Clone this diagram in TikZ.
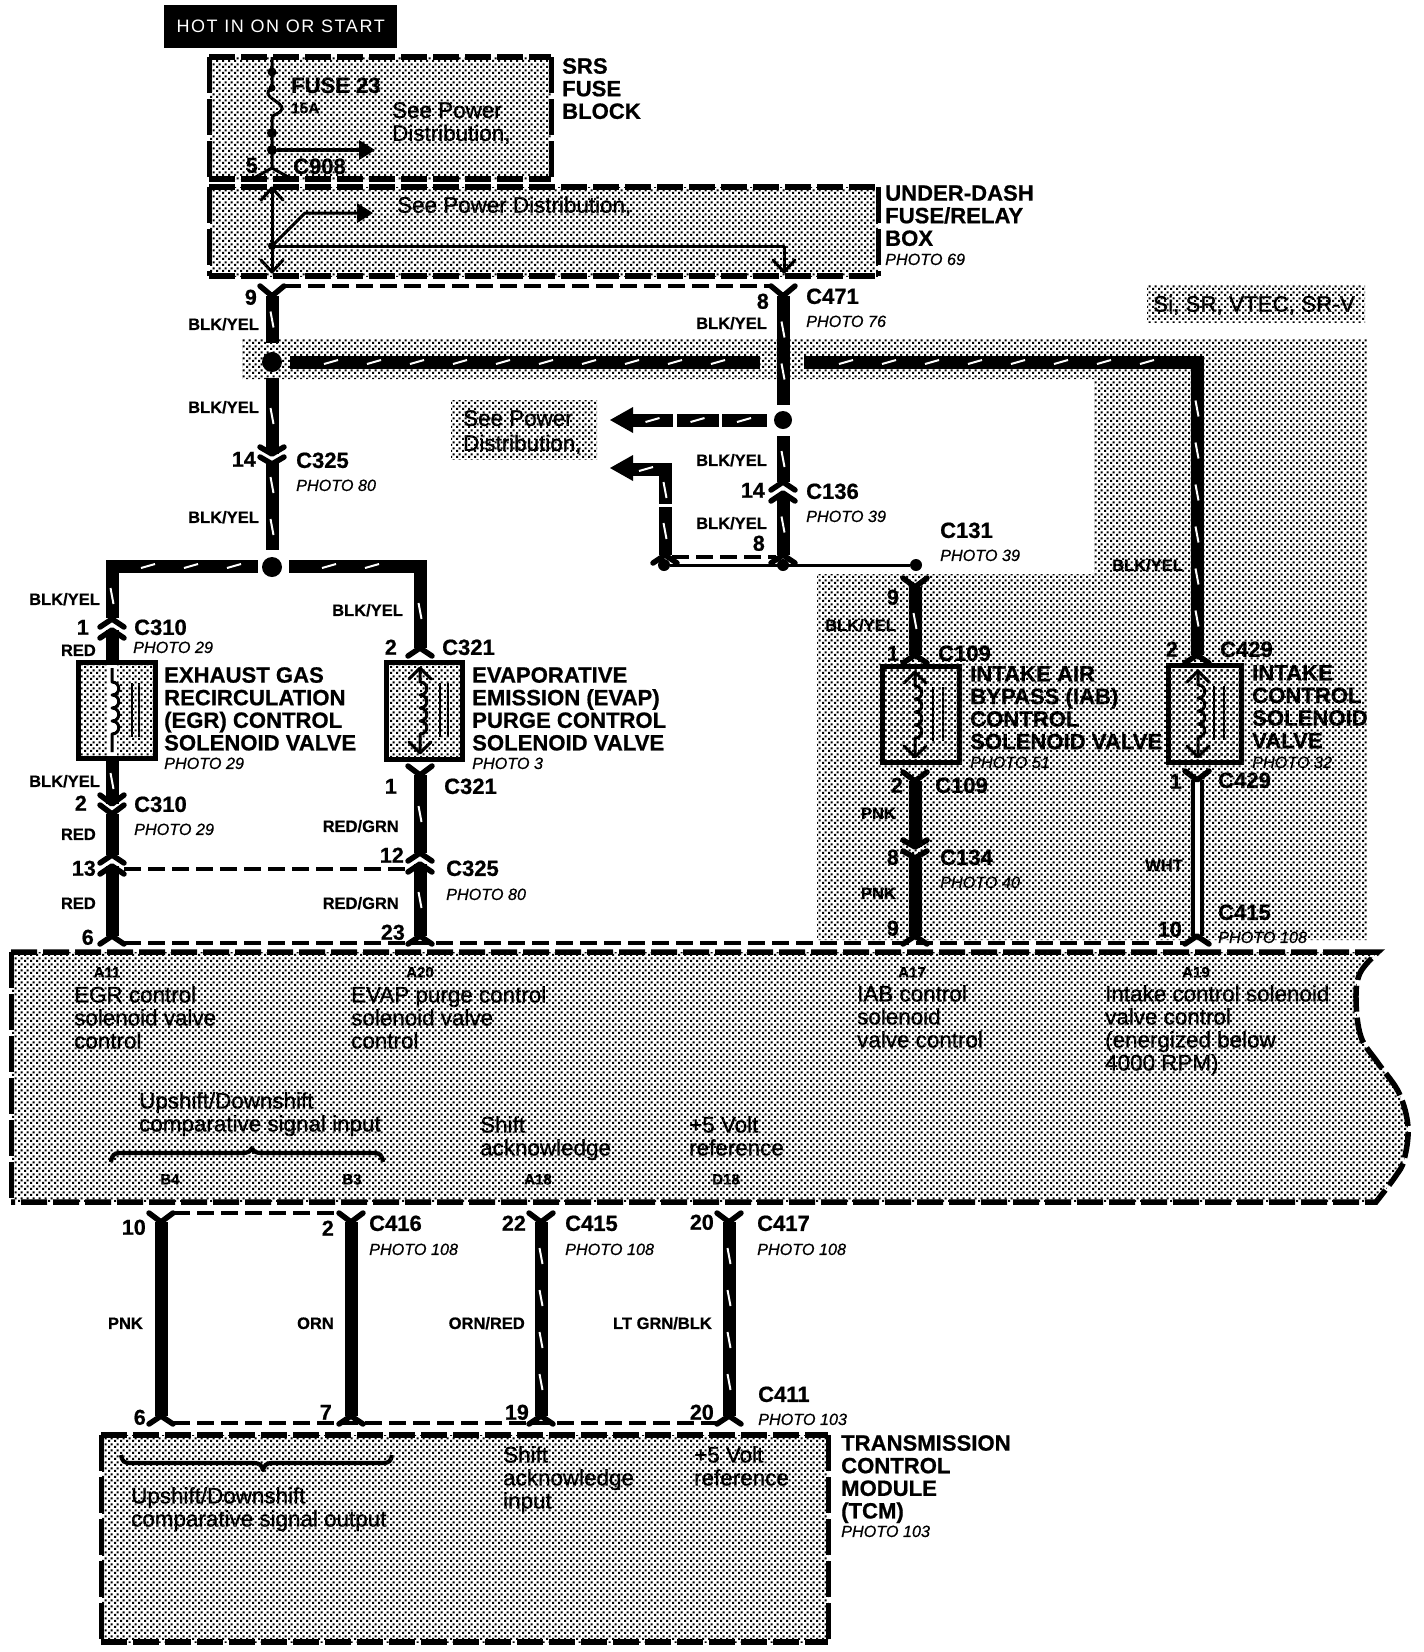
\documentclass[tikz,border=0pt]{standalone}
\usepackage{fontspec}
\setmainfont[FakeBold=1.0,BoldFeatures={FakeBold=0.8},ItalicFeatures={FakeBold=0.6}]{Liberation Sans}
\newfontfamily\hotfont[LetterSpace=9]{Liberation Sans}
\usetikzlibrary{patterns,calc}
\pgfdeclarepatternformonly{halftone}{\pgfqpoint{0pt}{0pt}}{\pgfqpoint{6pt}{6pt}}{\pgfqpoint{6pt}{6pt}}{%
  \pgfpathrectangle{\pgfqpoint{0pt}{0pt}}{\pgfqpoint{2.4pt}{2.4pt}}%
  \pgfpathrectangle{\pgfqpoint{3pt}{3pt}}{\pgfqpoint{2.4pt}{2.4pt}}%
  \pgfusepath{fill}}
\tikzset{
  hatch/.style={pattern=halftone,pattern color=black},
  hd/.style={line width=5.5pt,dash pattern=on 26pt off 6pt},
  vd/.style={line width=5pt,dash pattern=on 36pt off 6pt},
  thindash/.style={line width=3.2pt,dash pattern=on 17pt off 7pt},
  wire/.style={line width=13pt},
  swire/.style={line width=3pt,line join=round},
  tick/.style={white,line width=2pt},
  forkline/.style={line width=5.5pt,line cap=round,line join=round},
  chev/.style={line width=3pt,line cap=round,line join=round},
  cname/.style={font=\bfseries\fontsize{22}{24}\selectfont,inner sep=0pt,text height=15.8pt,text depth=0pt,anchor=west},
  pinno/.style={font=\bfseries\fontsize{21.5}{24}\selectfont,inner sep=0pt,text height=15.4pt,text depth=0pt,anchor=east},
  wcol/.style={font=\bfseries\fontsize{16.5}{18}\selectfont,inner sep=0pt,text height=11.9pt,text depth=0pt,anchor=east},
  photo/.style={font=\itshape\fontsize{16.2}{18}\selectfont,inner sep=0pt,text height=11.9pt,text depth=0pt,anchor=west},
  smallp/.style={font=\bfseries\fontsize{15}{16}\selectfont,inner sep=0pt,text height=10.8pt,text depth=0pt,anchor=center},
  bodytxt/.style={font=\fontsize{22.4}{23}\selectfont,inner sep=0pt,align=left,anchor=north west},
  titletxt/.style={font=\bfseries\fontsize{22.1}{22.6}\selectfont,inner sep=0pt,align=left,anchor=north west},
}
% plain vertical wire
\newcommand{\vwire}[4]{\coordinate (#1a) at (#2,#3);\coordinate (#1b) at (#2,#4);\draw[wire] (#1a) -- (#1b);}
% white ticks along a vertical run
\newcommand{\vticks}[3]{%
  \pgfmathtruncatemacro\nnn{max(1,floor((#3-#2)/42))}%
  \pgfmathtruncatemacro\mmm{\nnn-1}%
  \foreach \ii in {0,...,\mmm}{%
    \pgfmathsetmacro\yy{#2+((#3-#2)-\nnn*42)/2+21+42*\ii}%
    \draw[tick] ({#1-1.5},{\yy-8}) -- ({#1+1.5},{\yy+8});}}
\newcommand{\vswire}[4]{\vwire{#1}{#2}{#3}{#4}\vticks{#2}{#3}{#4}}
% white ticks along a horizontal run
\newcommand{\hticks}[3]{%
  \pgfmathtruncatemacro\nnn{max(1,floor((#2-#1)/43))}%
  \pgfmathtruncatemacro\mmm{\nnn-1}%
  \foreach \ii in {0,...,\mmm}{%
    \pgfmathsetmacro\xx{#1+((#2-#1)-\nnn*43)/2+21+43*\ii}%
    \draw[tick] ({\xx-7},{#3+2}) -- ({\xx+7},{#3-2});}}
\newcommand{\hswire}[4]{\coordinate (#1a) at (#2,#4);\coordinate (#1b) at (#3,#4);\draw[wire] (#1a) -- (#1b);\hticks{#2}{#3}{#4}}
% fork (connector end)
\newcommand{\fork}[3]{\draw[forkline] ({#1-12},{#2+#3}) -- (#1,#2) -- ({#1+12},{#2+#3});}
\newcommand{\inchev}[3]{\draw[chev] ({#1-11},{#2+#3}) -- (#1,#2) -- ({#1+11},{#2+#3});}
% dashed box
\newcommand{\dbox}[4]{\fill[hatch] (#1,#2) rectangle (#3,#4);
  \draw[hd] (#1,#2) -- (#3,#2); \draw[hd] (#1,#4) -- (#3,#4);
  \draw[vd] (#1,#2) -- (#1,#4); \draw[vd] (#3,#2) -- (#3,#4);}
% valve
\newcommand{\valvehook}{}
\newcommand{\valve}[8]{%
  \fill[hatch] (#2,#4) rectangle (#3,#5);
  \valvehook
  \draw[line width=5pt] (#2,#4) rectangle (#3,#5);
  \draw[swire] (#6,{#4+6}) -- (#6,{#4+20})
    \foreach \bb in {0,13,26,39}{ .. controls ({#6+9},{#4+20+\bb}) and ({#6+9},{#4+33+\bb}) .. (#6,{#4+33+\bb})}
    -- (#6,{#5-6});
  \draw[line width=2.8pt] (#7,{#4+21}) -- (#7,{#4+75});
  \draw[line width=2.8pt] (#8,{#4+21}) -- (#8,{#4+75});
}
\newcommand{\dotat}[4]{\node[circle,fill=black,inner sep=0pt,minimum size=#4pt] (#1) at (#2,#3) {};}
\begin{document}
\begin{tikzpicture}[x=1pt,y=-1pt]
\useasboundingbox (0,0) rectangle (1424,1652);
\fill[white] (0,0) rectangle (1424,1652);

% shaded option area
\fill[hatch] (242,338) -- (1367,338) -- (1367,940) -- (817,940) -- (817,574) -- (1094,574) -- (1094,379) -- (242,379) -- cycle;
\fill[hatch] (1147,285) rectangle (1365,322);
\fill[hatch] (451,400) rectangle (597,459);

% header
\node[fill=black,text=white,inner sep=0pt,minimum width=233pt,minimum height=43pt,anchor=north west,font=\hotfont\fontsize{18}{20}\selectfont] (hot) at (164,5) {HOT IN ON OR START};

% SRS fuse block
\dbox{209}{57}{551}{179}
\coordinate (s1) at (272,57); \coordinate (s2) at (272,72); \coordinate (s3) at (272,88);
\coordinate (s4) at (272,118); \coordinate (s5) at (272,150); \coordinate (s6) at (272,168);
\draw[swire] (s1) -- (s3) .. controls (258,96) and (284,102) .. (282,109) .. controls (281,114) and (272,114) .. (s4) -- (s6);
\dotat{d1}{272}{72}{9} \dotat{d2}{272}{88}{7} \dotat{d3}{272}{133}{10} \dotat{d4}{272}{150}{10}
\coordinate (s7) at (359,150);
\draw[line width=3.5pt] (d4) -- (s7);
\fill (375,150) -- (359,140) -- (359,160) -- cycle;
\draw[chev] (254,178) -- (s6) -- (290,178);

% Under-dash box
\dbox{209}{187}{878}{276}
\coordinate (u1) at (272,190); \coordinate (u2) at (272,272); \coordinate (u3) at (272,246);
\coordinate (u4) at (784,246); \coordinate (u5) at (784,272); \coordinate (u6) at (305,213); \coordinate (u7) at (357,213);
\draw[swire] (u1) -- (u2);
\draw[swire] (u3) -- (u4) -- (u5);
\draw[swire] (u3) -- (u6) -- (u7);
\fill (373,213) -- (357,203) -- (357,223) -- cycle;
\dotat{d5}{272}{246}{8}
\inchev{272}{188}{12} \inchev{272}{272}{-12} \inchev{784}{272}{-12}

% Top wires
\vswire{wa}{272}{296}{343}
\vswire{wb}{272}{378}{454}
\vswire{wc}{272}{462}{550}
\fork{272}{296}{-10} \fork{272}{454}{-7} \fork{272}{464}{-7}
\dotat{d6}{272}{362}{20}
\dotat{d7}{272}{567}{20}
\vswire{wd}{783}{296}{405}
\fork{783}{296}{-10}
\coordinate (t1) at (284,286); \coordinate (t2) at (771,286);
\draw[thindash] (t1) -- (t2);

% horizontal bus
\hswire{ha}{290}{760}{362}
\coordinate (hb1) at (804,362); \coordinate (hb2) at (1197,362); \coordinate (hb3) at (1197,655);
\draw[wire,line join=miter] (hb1) -- (hb2) -- (hb3);
\hticks{804}{1190}{362} \vticks{1197}{372}{655}
\fork{1197}{655}{8}

% see power distribution arrows
\dotat{d8}{783}{420}{18}
\coordinate (aa) at (633,420);
\hswire{ab}{633}{673}{420}
\hswire{ac}{677}{719}{420}
\hswire{ad}{722}{767}{420}
\fill (610,420) -- (633,407) -- (633,433) -- cycle;
\vswire{we}{783}{436}{482}
\vswire{wf}{783}{494}{555}
\fork{783}{482}{8} \fork{783}{493}{8} \fork{783}{555}{8}
% second arrow
\coordinate (b1) at (633,469); \coordinate (b2) at (665,469); \coordinate (b3) at (665,504);
\draw[wire,line join=miter] (b1) -- (b2) -- (b3);
\hticks{633}{660}{469} \vticks{665}{476}{504}
\fill (610,468) -- (633,455) -- (633,481) -- cycle;
\vswire{wg}{665}{507}{555}
\fork{665}{555}{8}
\coordinate (t3) at (672,557); \coordinate (t4) at (776,557);
\draw[thindash] (t3) -- (t4);
\dotat{d9}{664}{565}{12} \dotat{d10}{783}{565}{12} \dotat{d11}{916}{565}{12}
\draw[line width=3pt] (d9) -- (d11);

% left branch
\coordinate (la) at (112,566); \coordinate (lb) at (258,566); \coordinate (lc) at (112,618);
\draw[wire,line join=miter] (lc) -- (la) -- (lb);
\hticks{125}{258}{566} \vticks{112}{574}{618}
\coordinate (ra) at (420,566); \coordinate (rb) at (289,566); \coordinate (rc) at (420,648);
\draw[wire,line join=miter] (rc) -- (ra) -- (rb);
\hticks{289}{413}{566} \vticks{420}{574}{648}

% EGR column
\fork{112}{619}{8} \fork{112}{630}{8}
\vwire{w1}{112}{630}{662}
\renewcommand{\valvehook}{\fill[white] (108,664) rectangle (117,756);}
\valve{egr}{78}{155}{662}{758}{112}{132}{139}
\renewcommand{\valvehook}{}
\vswire{w2}{112}{758}{804}
\fork{112}{804}{-9} \fork{112}{814}{-9}
\vwire{w3}{112}{814}{855}
\fork{112}{855}{8} \fork{112}{866}{8}
\vwire{w4}{112}{866}{936}
\fork{112}{936}{8}

% EVAP column
\fork{420}{648}{8}
\valve{evap}{386}{462}{662}{759}{420}{440}{448}
\inchev{420}{668}{11} \inchev{420}{753}{-11}
\vswire{w5}{420}{775}{853}
\fork{420}{775}{-9}
\fork{420}{853}{8} \fork{420}{864}{8}
\vswire{w6}{420}{864}{936}
\fork{420}{936}{8}
\coordinate (t5) at (124,869); \coordinate (t6) at (408,869);
\draw[thindash] (t5) -- (t6);

% IAB column
\vswire{w7}{915}{587}{655}
\fork{915}{587}{-9} \fork{915}{655}{8}
\valve{iab}{882}{959}{666}{762}{915}{933}{943}
\inchev{915}{672}{11} \inchev{915}{757}{-11}
\vwire{w8}{915}{781}{847}
\fork{915}{781}{-9} \fork{915}{847}{-7} \fork{915}{858}{-7}
\vwire{w9}{915}{858}{936}
\fork{915}{936}{8}

% intake column
\valve{intk}{1168}{1241}{665}{762}{1198}{1214}{1224}
\inchev{1198}{671}{11} \inchev{1198}{757}{-11}
\coordinate (wh1) at (1197,780); \coordinate (wh2) at (1197,936);
\draw[line width=13pt] (wh1) -- (wh2);
\draw[white,line width=5pt] (wh1) -- (wh2);
\fork{1197}{780}{-9} \fork{1197}{936}{8}

% PCM
\path[hatch] (11,952) -- (1378,952) -- plot[smooth,tension=.6] coordinates {(1378,952) (1360,973) (1356,1000) (1361,1037) (1378,1063) (1399,1093) (1408,1127) (1404,1160) (1395,1177) (1376,1202)} -- (11,1202) -- cycle;
\draw[hd] (11,952) -- (1378,952) -- plot[smooth,tension=.6] coordinates {(1378,952) (1360,973) (1356,1000) (1361,1037) (1378,1063) (1399,1093) (1408,1127) (1404,1160) (1395,1177) (1376,1202)} -- (11,1202);
\draw[vd] (11,952) -- (11,1202);
\coordinate (t7) at (124,943); \coordinate (t8) at (1185,943);
\draw[thindash] (t7) -- (t8);

% Brace in PCM
\draw[line width=4.2pt,line join=round] (111,1162) .. controls (112,1155) and (114,1153) .. (120,1153) -- (243,1153) .. controls (248,1153) and (251,1151) .. (252,1148) .. controls (253,1151) and (256,1153) .. (261,1153) -- (374,1153) .. controls (380,1153) and (382,1155) .. (383,1162);

% Lower wires
\vwire{x1}{161}{1222}{1416}
\vwire{x2}{351}{1222}{1416}
\vswire{x3}{541}{1222}{1416}
\vswire{x4}{729}{1222}{1416}
\foreach \xw in {161,351,541,729}{\fork{\xw}{1222}{-9} \fork{\xw}{1416}{8}}
\coordinate (t9) at (173,1213); \coordinate (t10) at (339,1213);
\draw[thindash] (t9) -- (t10);
\coordinate (t11) at (173,1423); \coordinate (t12) at (717,1423);
\draw[thindash] (t11) -- (t12);

% TCM
\dbox{101}{1435}{828}{1642}
\draw[line width=4.2pt,line join=round] (121,1455) .. controls (122,1461) and (124,1463) .. (130,1463) -- (254,1463) .. controls (259,1463) and (262,1465) .. (263,1470) .. controls (264,1465) and (267,1463) .. (272,1463) -- (383,1463) .. controls (389,1463) and (391,1461) .. (392,1455);

% === Labels ===
\node[titletxt] (lsrs) at (562,58) {SRS\\FUSE\\BLOCK};
\node[cname] (lf23) at (291,85) {FUSE 23};
\node[font=\bfseries\fontsize{15.4}{17}\selectfont,inner sep=0pt,anchor=west] (l15a) at (291,108) {15A};
\node[bodytxt] (lsp1) at (392,102) {See Power\\Distribution,};
\node[cname] (lc908) at (293,166) {C908};
\node[pinno] (lp5) at (258,165) {5};
\node[bodytxt,anchor=west] (lsp2) at (397,206) {See Power Distribution,};
\node[titletxt] (lud) at (885,185) {UNDER-DASH\\FUSE/RELAY\\BOX};
\node[photo] (lph69) at (885,259) {PHOTO 69};
\node[pinno] (lp9) at (257,297) {9};
\node[wcol] (lby1) at (259,324) {BLK/YEL};
\node[pinno] (lp8) at (769,301) {8};
\node[wcol] (lby2) at (767,323) {BLK/YEL};
\node[cname] (lc471) at (806,296) {C471};
\node[photo] (lph76) at (806,321) {PHOTO 76};
\node[bodytxt,anchor=center] (lsi) at (1254,305) {Si, SR, VTEC, SR-V};
\node[wcol] (lby3) at (259,407) {BLK/YEL};
\node[pinno] (lp14) at (256,459) {14};
\node[cname] (lc325a) at (296,460) {C325};
\node[photo] (lph80a) at (296,485) {PHOTO 80};
\node[wcol] (lby4) at (259,517) {BLK/YEL};
\node[bodytxt] (lsp3) at (463,410) {See Power\\[2pt]Distribution,};
\node[wcol] (lby5) at (767,460) {BLK/YEL};
\node[pinno] (lp14b) at (765,490) {14};
\node[cname] (lc136) at (806,491) {C136};
\node[photo] (lph39a) at (806,516) {PHOTO 39};
\node[wcol] (lby6) at (767,523) {BLK/YEL};
\node[pinno] (lp8b) at (765,543) {8};
\node[cname] (lc131) at (940,530) {C131};
\node[photo] (lph39b) at (940,555) {PHOTO 39};
\node[wcol] (lby7) at (1183,565) {BLK/YEL};
% EGR labels
\node[wcol] (lby8) at (100,599) {BLK/YEL};
\node[pinno] (lp1a) at (89,627) {1};
\node[cname] (lc310a) at (134,627) {C310};
\node[photo] (lph29a) at (133,647) {PHOTO 29};
\node[wcol] (lred1) at (96,650) {RED};
\node[titletxt] (legr) at (164,667) {EXHAUST GAS\\RECIRCULATION\\(EGR) CONTROL\\SOLENOID VALVE};
\node[photo] (lph29b) at (164,763) {PHOTO 29};
\node[wcol] (lby9) at (100,781) {BLK/YEL};
\node[pinno] (lp2a) at (87,803) {2};
\node[cname] (lc310b) at (134,804) {C310};
\node[photo] (lph29c) at (134,829) {PHOTO 29};
\node[wcol] (lred2) at (96,834) {RED};
\node[pinno] (lp13) at (96,868) {13};
\node[wcol] (lred3) at (96,903) {RED};
\node[pinno] (lp6a) at (94,937) {6};
% EVAP labels
\node[wcol] (lby10) at (403,610) {BLK/YEL};
\node[pinno] (lp2b) at (397,647) {2};
\node[cname] (lc321a) at (442,647) {C321};
\node[titletxt] (levap) at (472,667) {EVAPORATIVE\\EMISSION (EVAP)\\PURGE CONTROL\\SOLENOID VALVE};
\node[photo] (lph3) at (472,763) {PHOTO 3};
\node[pinno] (lp1b) at (397,786) {1};
\node[cname] (lc321b) at (444,786) {C321};
\node[wcol] (lrg1) at (399,826) {RED/GRN};
\node[pinno] (lp12) at (404,855) {12};
\node[cname] (lc325b) at (446,868) {C325};
\node[photo] (lph80b) at (446,894) {PHOTO 80};
\node[wcol] (lrg2) at (399,903) {RED/GRN};
\node[pinno] (lp23) at (405,932) {23};
% IAB labels
\node[pinno] (lp9b) at (899,597) {9};
\node[wcol] (lby11) at (896,625) {BLK/YEL};
\node[pinno] (lp1c) at (899,653) {1};
\node[cname] (lc109a) at (938,653) {C109};
\node[titletxt] (liab) at (970,666) {INTAKE AIR\\BYPASS (IAB)\\CONTROL\\SOLENOID VALVE};
\node[photo] (lph51) at (970,762) {PHOTO 51};
\node[pinno] (lp2c) at (903,785) {2};
\node[cname] (lc109b) at (935,785) {C109};
\node[wcol] (lpnk1) at (896,813) {PNK};
\node[pinno] (lp8c) at (899,857) {8};
\node[cname] (lc134) at (940,857) {C134};
\node[photo] (lph40) at (940,882) {PHOTO 40};
\node[wcol] (lpnk2) at (896,893) {PNK};
\node[pinno] (lp9c) at (899,928) {9};
% Intake labels
\node[pinno] (lp2d) at (1178,649) {2};
\node[cname] (lc429a) at (1220,649) {C429};
\node[titletxt] (lint) at (1252,665) {INTAKE\\CONTROL\\SOLENOID\\VALVE};
\node[photo] (lph32) at (1252,762) {PHOTO 32};
\node[pinno] (lp1d) at (1182,781) {1};
\node[cname] (lc429b) at (1218,780) {C429};
\node[wcol] (lwht) at (1183,865) {WHT};
\node[cname] (lc415a) at (1218,912) {C415};
\node[pinno] (lp10a) at (1182,929) {10};
\node[photo] (lph108a) at (1218,937) {PHOTO 108};
% PCM text
\node[smallp] (la11) at (107,972) {A11};
\node[smallp] (la20) at (420,972) {A20};
\node[smallp] (la17) at (912,972) {A17};
\node[smallp] (la19) at (1196,972) {A19};
\node[bodytxt] (tegr) at (74,986) {EGR control\\solenoid valve\\control};
\node[bodytxt] (tevap) at (351,986) {EVAP purge control\\solenoid valve\\control};
\node[bodytxt] (tiab) at (857,985) {IAB control\\solenoid\\valve control};
\node[bodytxt] (tint) at (1105,985) {Intake control solenoid\\valve control\\(energized below\\4000 RPM)};
\node[bodytxt] (tup) at (139,1092) {Upshift/Downshift\\comparative signal input};
\node[bodytxt] (tsh) at (480,1116) {Shift\\acknowledge};
\node[bodytxt] (tv5) at (689,1116) {+5 Volt\\reference};
\node[smallp] (lb4) at (170,1179) {B4};
\node[smallp] (lb3) at (352,1179) {B3};
\node[smallp] (la18) at (538,1179) {A18};
\node[smallp] (ld18) at (726,1179) {D18};
% lower labels
\node[pinno] (lp10b) at (146,1227) {10};
\node[pinno] (lp2e) at (334,1228) {2};
\node[cname] (lc416) at (369,1223) {C416};
\node[photo] (lph108b) at (369,1249) {PHOTO 108};
\node[pinno] (lp22) at (526,1223) {22};
\node[cname] (lc415b) at (565,1223) {C415};
\node[photo] (lph108c) at (565,1249) {PHOTO 108};
\node[pinno] (lp20a) at (714,1222) {20};
\node[cname] (lc417) at (757,1223) {C417};
\node[photo] (lph108d) at (757,1249) {PHOTO 108};
\node[wcol] (lpnk3) at (143,1323) {PNK};
\node[wcol] (lorn) at (334,1323) {ORN};
\node[wcol] (lor) at (525,1323) {ORN/RED};
\node[wcol] (llt) at (712,1323) {LT GRN/BLK};
\node[cname] (lc411) at (758,1394) {C411};
\node[photo] (lph103a) at (758,1419) {PHOTO 103};
\node[pinno] (lp6b) at (146,1417) {6};
\node[pinno] (lp7) at (332,1412) {7};
\node[pinno] (lp19) at (529,1412) {19};
\node[pinno] (lp20b) at (714,1412) {20};
% TCM text
\node[titletxt] (ltcm) at (841,1435) {TRANSMISSION\\CONTROL\\MODULE\\(TCM)};
\node[photo] (lph103b) at (841,1531) {PHOTO 103};
\node[bodytxt] (tup2) at (131,1487) {Upshift/Downshift\\comparative signal output};
\node[bodytxt] (tsh2) at (503,1446) {Shift\\acknowledge\\input};
\node[bodytxt] (tv52) at (694,1446) {+5 Volt\\reference};
\end{tikzpicture}
\end{document}
